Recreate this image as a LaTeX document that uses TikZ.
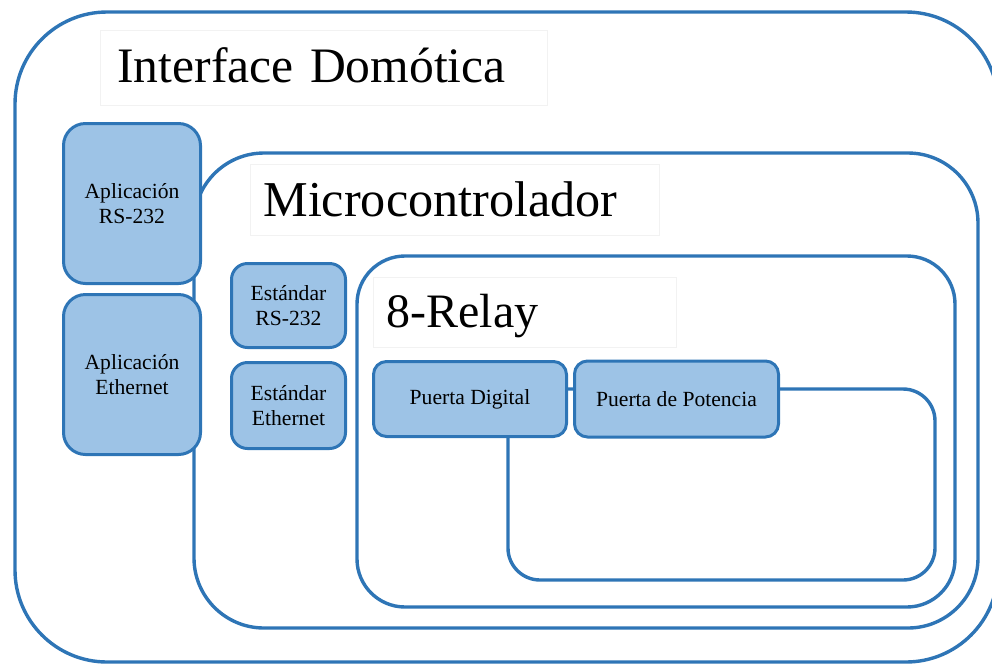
\documentclass[tikz,border=0pt]{standalone}
\usepackage{fontspec}
\setmainfont{Liberation Serif}
\usetikzlibrary{positioning}
\definecolor{azul}{HTML}{2E75B6}
\definecolor{celeste}{HTML}{9DC3E6}
\tikzset{
marco/.style={draw=azul,line width=1.7pt},
caja/.style={draw=azul,fill=celeste,line width=1.5pt,align=center,inner sep=0pt,
font=\fontsize{10.8}{12.5}\selectfont},
rotulo/.style={draw=black!5,fill=white,anchor=north west,align=left,inner ysep=0pt}
}

\begin{document}
\begin{tikzpicture}[x=0.5pt,y=-0.5pt]
\useasboundingbox(0,0)rectangle(992,666);
% marcos anidados
\draw[marco,rounded corners=46pt](15,12)rectangle(998,662);
\draw[marco,rounded corners=35pt](194,153)rectangle(978,628);
\draw[marco,rounded corners=24pt](357,256)rectangle(955,607);
\draw[marco,rounded corners=16pt](508,389)rectangle(935,580);
%%
\node[rotulo,inner xsep=8.5pt,text width=206.5pt,text height=26pt,text depth=11.5pt,
font=\fontsize{24.8}{30}\selectfont](TI)at(100,30){Interface Domótica};
\node[rotulo,inner xsep=6.5pt,text width=191.5pt,text height=26pt,text depth=9.5pt,
font=\fontsize{25.1}{30}\selectfont](TM)at(250,164){Microcontrolador};
\node[rotulo,inner xsep=6.5pt,text width=138.5pt,text height=24.8pt,text depth=10.2pt,
font=\fontsize{24}{28}\selectfont](TR)at(373,277){8-Relay};
%%
\node[caja,rounded corners=11pt,minimum width=68.5pt,minimum height=80pt]
(AR)at(132,203.5){Aplicación\\RS-232};
\node[caja,rounded corners=11pt,minimum width=68.5pt,minimum height=80pt,
below=4pt of AR](AE){Aplicación\\Ethernet};
%
\node[caja,rounded corners=8pt,minimum width=57pt,minimum height=42pt]
(ER)at(288.5,305.5){Estándar\\RS-232};
\node[caja,rounded corners=8pt,minimum width=57pt,minimum height=43pt,
below=6pt of ER](EE){Estándar\\Ethernet};
%
\node[caja,rounded corners=6.5pt,minimum width=96.5pt,minimum height=37.5pt]
(PD)at(470,399){Puerta Digital};
\node[caja,rounded corners=6.5pt,minimum width=102pt,minimum height=38pt,
right=2.5pt of PD](PP){Puerta de Potencia};
\end{tikzpicture}
\end{document}
